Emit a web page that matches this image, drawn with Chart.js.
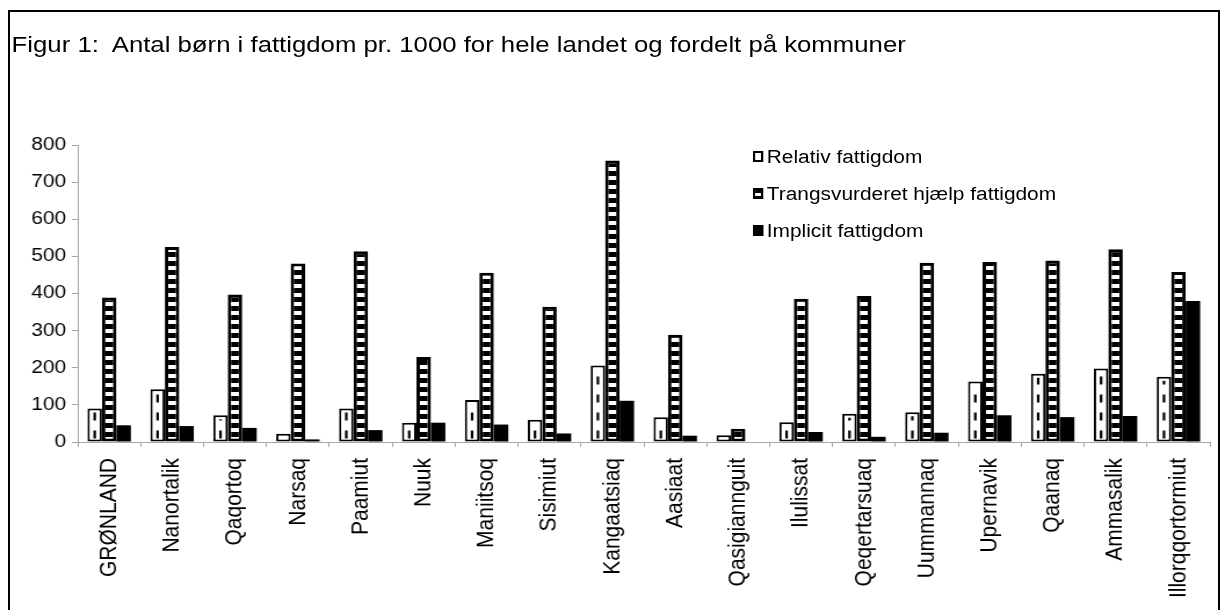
<!DOCTYPE html>
<html>
<head>
<meta charset="utf-8">
<script src="https://cdn.jsdelivr.net/npm/chart.js@4"></script>
<style>
  body { margin: 0; background: #fff; width: 1224px; height: 610px; overflow: hidden; position: relative; }
  #frame { position: absolute; left: 8px; top: 10px; width: 1208px; height: 640px; border: 2px solid #000; }
  #stage { position: absolute; left: 0; top: 0; width: 1055px; height: 610px; transform: scaleX(1.16); transform-origin: 0 0; }
  #chart { position: absolute; left: 0; top: 0; }
  #title { position: absolute; left: 10px; top: 34px; font: 22.2px "Liberation Sans", Arial, sans-serif; line-height: 1; white-space: pre; color: #000; }
  .item { position: absolute; left: 649px; height: 18px; font: 18px "Liberation Sans", Arial, sans-serif; line-height: 1; white-space: pre; }
  .box { position: absolute; left: 0; top: 3px; width: 8.6px; height: 11px; box-sizing: border-box; border: 2px solid #000; }
  .lbl { position: absolute; left: 12px; top: 0; }
</style>
</head>
<body>
<div id="frame"></div>
<div id="stage">
  <canvas id="chart" width="1055" height="610"></canvas>
  <div id="title">Figur 1:  Antal børn i fattigdom pr. 1000 for hele landet og fordelt på kommuner</div>
  <div id="legend"></div>
</div>
<script>
// DATA
const categories = ['GRØNLAND', 'Nanortalik', 'Qaqortoq', 'Narsaq', 'Paamiut', 'Nuuk', 'Maniitsoq', 'Sisimiut',
  'Kangaatsiaq', 'Aasiaat', 'Qasigiannguit', 'Ilulissat', 'Qeqertarsuaq', 'Uummannaq', 'Upernavik', 'Qaanaq',
  'Ammasalik', 'Illorqqortormiut'];
const seriesNames = ['Relativ fattigdom', 'Trangsvurderet hjælp fattigdom', 'Implicit fattigdom'];
const relativ = [90, 142, 72, 22, 90, 52, 113, 60, 206, 67, 18, 53, 76, 80, 163, 184, 198, 176];
const trangsvurderet = [389, 525, 397, 481, 514, 229, 456, 364, 758, 289, 36, 386, 393, 483, 485, 489, 519, 458];
const implicit = [45, 43, 38, 7, 32, 52, 47, 23, 111, 17, 0, 27, 14, 25, 72, 67, 70, 380];
const yTicks = [0, 100, 200, 300, 400, 500, 600, 700, 800];

const FONT = '"Liberation Sans", Arial, sans-serif';
const ctx = document.getElementById('chart').getContext('2d');

// horizontal ladder stripes
function stripes() {
  const c = document.createElement('canvas');
  c.width = 4; c.height = 9;
  const g = c.getContext('2d');
  g.fillStyle = '#000'; g.fillRect(0, 0, 4, 9);
  g.fillStyle = '#fff'; g.fillRect(0, 5, 4, 4);
  return ctx.createPattern(c, 'repeat');
}

// dashed vertical line inside the white bars
const dashPlugin = {
  id: 'dashes',
  afterDatasetDraw(chart, args) {
    if (args.index !== 0) return;
    const c = chart.ctx;
    c.save();
    c.strokeStyle = '#000';
    c.lineWidth = 2.2;
    c.setLineDash([8, 10]);
    args.meta.data.forEach(bar => {
      const p = bar.getProps(['x', 'y', 'base'], true);
      if (p.base - p.y < 10) return;
      c.beginPath();
      c.moveTo(p.x, p.base - 3);
      c.lineTo(p.x, p.y + 4);
      c.stroke();
    });
    c.restore();
  }
};

new Chart(ctx, {
  type: 'bar',
  data: {
    labels: categories,
    datasets: [
      { label: seriesNames[0], data: relativ, backgroundColor: '#fff', borderColor: '#000', borderWidth: 2, borderSkipped: false },
      { label: seriesNames[1], data: trangsvurderet, backgroundColor: stripes(), borderColor: '#000', borderWidth: 3, borderSkipped: false },
      { label: seriesNames[2], data: implicit, backgroundColor: '#000', borderColor: '#000', borderWidth: 0 }
    ]
  },
  options: {
    responsive: false,
    animation: false,
    events: [],
    layout: { padding: { left: 22, right: 12, top: 145, bottom: 0 } },
    datasets: { bar: { categoryPercentage: 0.69, barPercentage: 1 } },
    plugins: { legend: { display: false }, tooltip: { enabled: false } },
    scales: {
      x: {
        grid: { offset: true, drawOnChartArea: false, tickLength: 5, color: '#a6a6a6' },
        border: { color: '#a6a6a6' },
        ticks: { autoSkip: false, minRotation: 90, maxRotation: 90, padding: 11, color: '#000', font: { family: FONT, size: 21 } },
        afterFit: s => { s.height = 168; }
      },
      y: {
        min: 0, max: 800,
        afterBuildTicks: s => { s.ticks = yTicks.map(v => ({ value: v })); },
        grid: { drawOnChartArea: false, tickLength: 5, color: '#a6a6a6' },
        border: { color: '#a6a6a6' },
        ticks: { padding: 5, color: '#000', font: { family: FONT, size: 18 } },
        afterFit: s => { s.width = 45; }
      }
    }
  },
  plugins: [dashPlugin]
});

// LEGEND (overlaid on the plot, top right)
const boxStyles = [
  'background:#fff;',
  'background:linear-gradient(#000 0 3px, #fff 3px 6px, #000 6px);',
  'background:#000;'
];
const legend = document.getElementById('legend');
seriesNames.forEach((name, i) => {
  const item = document.createElement('div');
  item.className = 'item';
  item.style.top = (148 + i * 37) + 'px';
  item.innerHTML = '<span class="box" style="' + boxStyles[i] + '"></span><span class="lbl"></span>';
  item.querySelector('.lbl').textContent = name;
  legend.appendChild(item);
});
</script>
</body>
</html>
